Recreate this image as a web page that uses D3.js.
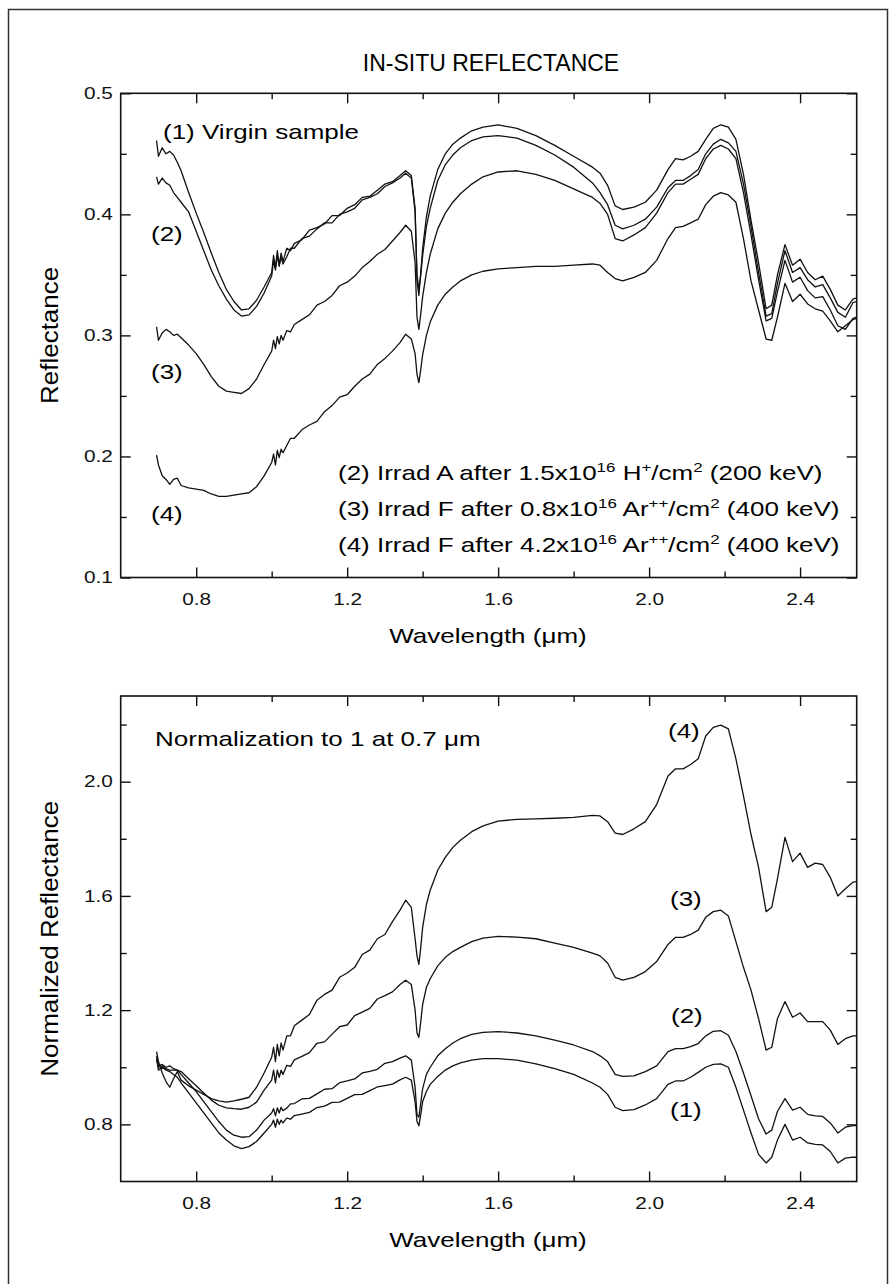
<!DOCTYPE html>
<html>
<head>
<meta charset="utf-8">
<script src="https://cdn.jsdelivr.net/npm/d3@7"></script>
<style>
  body { margin: 0; background: #fff; }
  svg { display: block; font-family: "Liberation Sans", Arial, Helvetica, sans-serif; }
</style>
</head>
<body>
<svg id="chart" width="890" height="1284"></svg>
<script>
// Wavelength grid (um), shared by all spectra
var wavelength = [
  0.695, 0.70, 0.71, 0.72, 0.73, 0.74, 0.75, 0.76, 0.78, 0.80,
  0.82, 0.84, 0.86, 0.88, 0.90, 0.92, 0.94, 0.96, 0.98, 1.00,
  1.005, 1.01, 1.015, 1.02, 1.025, 1.03, 1.04, 1.05, 1.06, 1.08,
  1.10, 1.12, 1.14, 1.16, 1.18, 1.20, 1.22, 1.24, 1.26, 1.28,
  1.30, 1.32, 1.34, 1.355, 1.37, 1.38, 1.385, 1.39, 1.395, 1.40,
  1.41, 1.42, 1.44, 1.46, 1.48, 1.50, 1.53, 1.56, 1.60, 1.65,
  1.70, 1.75, 1.80, 1.85, 1.87, 1.89, 1.91, 1.93, 1.96, 1.99,
  2.02, 2.05, 2.07, 2.09, 2.11, 2.13, 2.15, 2.17, 2.19, 2.21,
  2.23, 2.25, 2.27, 2.29, 2.31, 2.325, 2.34, 2.36, 2.38, 2.40,
  2.42, 2.44, 2.46, 2.48, 2.50, 2.52, 2.54, 2.55
];

// In-situ reflectance
var reflVirgin = [
  0.461, 0.448, 0.455, 0.450, 0.452, 0.449, 0.443, 0.436, 0.418, 0.401,
  0.385, 0.368, 0.352, 0.338, 0.328, 0.321, 0.322, 0.329, 0.340, 0.352,
  0.366, 0.356, 0.370, 0.358, 0.368, 0.361, 0.372, 0.370, 0.376, 0.379,
  0.387, 0.389, 0.392, 0.399, 0.399, 0.405, 0.408, 0.414, 0.415, 0.420,
  0.425, 0.427, 0.432, 0.436, 0.432, 0.405, 0.345, 0.333, 0.352, 0.372,
  0.398, 0.415, 0.437, 0.450, 0.458, 0.463, 0.469, 0.472, 0.474, 0.471,
  0.465, 0.457, 0.448, 0.439, 0.434, 0.424, 0.407, 0.404, 0.406, 0.410,
  0.420, 0.437, 0.446, 0.445, 0.448, 0.452, 0.462, 0.471, 0.474, 0.472,
  0.462, 0.433, 0.395, 0.360, 0.322, 0.325, 0.350, 0.375, 0.358, 0.363,
  0.352, 0.346, 0.349, 0.338, 0.325, 0.321, 0.330, 0.331
];
var reflIrradA = [
  0.431, 0.425, 0.430, 0.426, 0.424, 0.418, 0.414, 0.410, 0.402, 0.386,
  0.370, 0.354, 0.341, 0.330, 0.321, 0.316, 0.317, 0.324, 0.335, 0.349,
  0.362, 0.354, 0.366, 0.357, 0.365, 0.359, 0.365, 0.372, 0.372, 0.380,
  0.382, 0.388, 0.393, 0.393, 0.400, 0.402, 0.405, 0.412, 0.414, 0.417,
  0.423, 0.426, 0.430, 0.434, 0.430, 0.402, 0.350, 0.338, 0.350, 0.366,
  0.390, 0.405, 0.428, 0.441, 0.449, 0.455, 0.461, 0.464, 0.465, 0.463,
  0.457, 0.449, 0.439, 0.426, 0.418, 0.408, 0.391, 0.388, 0.391, 0.396,
  0.406, 0.422, 0.428, 0.428, 0.432, 0.437, 0.450, 0.458, 0.462, 0.459,
  0.452, 0.425, 0.390, 0.352, 0.316, 0.318, 0.343, 0.370, 0.352, 0.356,
  0.346, 0.340, 0.342, 0.331, 0.319, 0.315, 0.327, 0.328
];
var reflIrradF08 = [
  0.307, 0.296, 0.302, 0.305, 0.303, 0.300, 0.301, 0.298, 0.292, 0.285,
  0.276, 0.266, 0.258, 0.254, 0.253, 0.252, 0.256, 0.264, 0.276, 0.287,
  0.296, 0.289, 0.299, 0.293, 0.300, 0.296, 0.304, 0.303, 0.309, 0.313,
  0.317, 0.325, 0.328, 0.333, 0.341, 0.344, 0.349, 0.356, 0.361, 0.367,
  0.371, 0.378, 0.385, 0.391, 0.386, 0.360, 0.315, 0.305, 0.318, 0.332,
  0.352, 0.367, 0.388, 0.401, 0.410, 0.417, 0.425, 0.431, 0.435, 0.436,
  0.433, 0.428, 0.421, 0.414, 0.409, 0.400, 0.380, 0.378, 0.383, 0.389,
  0.401, 0.418, 0.425, 0.425, 0.429, 0.433, 0.446, 0.454, 0.457, 0.454,
  0.446, 0.418, 0.383, 0.346, 0.312, 0.314, 0.336, 0.362, 0.344, 0.348,
  0.337, 0.331, 0.332, 0.321, 0.308, 0.305, 0.314, 0.315
];
var reflIrradF42 = [
  0.201, 0.193, 0.184, 0.181, 0.177, 0.181, 0.182, 0.176, 0.174, 0.173,
  0.172, 0.169, 0.167, 0.167, 0.168, 0.169, 0.170, 0.175, 0.184, 0.195,
  0.202, 0.193, 0.205, 0.199, 0.206, 0.203, 0.209, 0.215, 0.215, 0.222,
  0.226, 0.229, 0.237, 0.242, 0.249, 0.251, 0.258, 0.264, 0.268, 0.276,
  0.281, 0.287, 0.294, 0.301, 0.297, 0.285, 0.268, 0.261, 0.272, 0.284,
  0.300, 0.311, 0.325, 0.334, 0.340, 0.345, 0.350, 0.353, 0.355, 0.356,
  0.357, 0.357, 0.358, 0.359, 0.358, 0.352, 0.347, 0.345, 0.348, 0.352,
  0.362, 0.380, 0.389, 0.390, 0.393, 0.396, 0.408, 0.415, 0.418, 0.416,
  0.410, 0.380, 0.345, 0.321, 0.297, 0.296, 0.315, 0.343, 0.328, 0.334,
  0.326, 0.322, 0.320, 0.312, 0.303, 0.308, 0.313, 0.314
];

// Normalized reflectance (1 at 0.7 um)
var normVirgin = [
  1.03, 0.99, 1.0, 0.99, 0.985, 0.975, 0.965, 0.945, 0.91, 0.875,
  0.84, 0.805, 0.77, 0.745, 0.725, 0.715, 0.722, 0.74, 0.77, 0.80,
  0.815, 0.79, 0.818, 0.80, 0.815, 0.805, 0.822, 0.818, 0.831, 0.836,
  0.842, 0.859, 0.864, 0.877, 0.878, 0.891, 0.904, 0.905, 0.918, 0.931,
  0.936, 0.941, 0.956, 0.965, 0.955, 0.88, 0.81, 0.795, 0.835, 0.88,
  0.915, 0.94, 0.968, 0.99, 1.005, 1.015, 1.025, 1.03, 1.03, 1.025,
  1.012, 0.995, 0.975, 0.945, 0.93, 0.905, 0.86, 0.848, 0.852, 0.868,
  0.89, 0.94, 0.952, 0.952, 0.965, 0.982, 1.0, 1.01, 1.012, 1.0,
  0.93, 0.85, 0.77, 0.695, 0.665, 0.685, 0.745, 0.80, 0.745, 0.755,
  0.735, 0.73, 0.728, 0.705, 0.665, 0.682, 0.685, 0.685
];
var normIrradA = [
  1.04, 1.005, 1.01, 1.0, 1.005, 0.995, 0.99, 0.975, 0.945, 0.915,
  0.88, 0.845, 0.81, 0.78, 0.762, 0.755, 0.757, 0.78, 0.815, 0.84,
  0.855, 0.83, 0.858, 0.84, 0.86, 0.848, 0.857, 0.872, 0.873, 0.889,
  0.891, 0.907, 0.923, 0.925, 0.946, 0.952, 0.959, 0.980, 0.986, 0.993,
  1.014, 1.020, 1.032, 1.04, 1.025, 0.93, 0.835, 0.825, 0.875, 0.925,
  0.975, 1.0, 1.04, 1.065, 1.085, 1.1, 1.115, 1.122, 1.125, 1.12,
  1.11, 1.095, 1.078, 1.055, 1.04, 1.02, 0.975, 0.968, 0.97, 0.985,
  1.005, 1.055, 1.065, 1.065, 1.072, 1.083, 1.11, 1.126, 1.128, 1.112,
  1.055, 0.98, 0.9, 0.82, 0.766, 0.78, 0.845, 0.89, 0.85, 0.86,
  0.835, 0.83, 0.828, 0.805, 0.77, 0.79, 0.796, 0.796
];
var normIrradF08 = [
  1.03, 1.0, 1.005, 0.995, 0.99, 0.99, 0.99, 0.985, 0.96, 0.935,
  0.91, 0.885, 0.867, 0.858, 0.855, 0.853, 0.86, 0.878, 0.92, 0.955,
  0.99, 0.945, 0.99, 0.965, 0.99, 0.975, 1.007, 1.003, 1.026, 1.038,
  1.051, 1.084, 1.089, 1.116, 1.142, 1.148, 1.181, 1.193, 1.206, 1.239,
  1.251, 1.264, 1.29, 1.305, 1.29, 1.2, 1.12, 1.105, 1.16, 1.22,
  1.28, 1.31, 1.355, 1.385, 1.405, 1.42, 1.44, 1.452, 1.458, 1.456,
  1.45, 1.435, 1.42, 1.40, 1.39, 1.365, 1.315, 1.305, 1.315, 1.335,
  1.37, 1.43, 1.455, 1.455, 1.465, 1.48, 1.525, 1.545, 1.55, 1.53,
  1.44, 1.35, 1.27, 1.17, 1.06, 1.07, 1.17, 1.23, 1.175, 1.19,
  1.16, 1.16, 1.16, 1.13, 1.08, 1.10, 1.11, 1.11
];
var normIrradF42 = [
  1.055, 1.02, 0.98, 0.95, 0.93, 0.96, 0.985, 0.955, 0.935, 0.92,
  0.905, 0.89, 0.882, 0.878, 0.882, 0.888, 0.895, 0.93, 0.98, 1.035,
  1.07, 1.02, 1.08, 1.04, 1.085, 1.06, 1.11, 1.11, 1.145, 1.165,
  1.185, 1.235, 1.255, 1.27, 1.315, 1.33, 1.35, 1.395, 1.41, 1.45,
  1.465, 1.51, 1.55, 1.585, 1.56, 1.45, 1.39, 1.36, 1.42, 1.49,
  1.57, 1.62, 1.69, 1.735, 1.77, 1.795, 1.825, 1.845, 1.862, 1.868,
  1.87, 1.872, 1.875, 1.882, 1.88, 1.86, 1.82, 1.815, 1.835, 1.86,
  1.92, 2.02, 2.045, 2.045, 2.06, 2.08, 2.16, 2.19, 2.198, 2.185,
  2.08, 1.95, 1.815, 1.70, 1.545, 1.56, 1.66, 1.805, 1.72, 1.75,
  1.70, 1.715, 1.71, 1.665, 1.60, 1.625, 1.648, 1.65
];

// Ticks
var xMajorTicks = [0.8, 1.2, 1.6, 2.0, 2.4];
var xMinorTicks = [1.0, 1.4, 1.8, 2.2];
var topYMajorTicks = [0.1, 0.2, 0.3, 0.4, 0.5];
var topYMinorTicks = [0.15, 0.25, 0.35, 0.45];
var bottomYMajorTicks = [0.8, 1.2, 1.6, 2.0];
var bottomYMinorTicks = [1.0, 1.4, 1.8, 2.2];

var stretch = 1.3; // text in the picture is drawn wide
var svg = d3.select("#chart");

// outer frame
svg
  .append("rect")
  .attr("x", 8.5)
  .attr("y", 9.5)
  .attr("width", 879)
  .attr("height", 1300)
  .attr("fill", "none")
  .attr("stroke", "#333")
  .attr("stroke-width", 1.5);

svg
  .append("text")
  .attr("x", 491)
  .attr("y", 71)
  .attr("text-anchor", "middle")
  .style("font-size", "23px")
  .text("IN-SITU REFLECTANCE");

function addLabel(x, y, str, size, anchor) {
  return svg
    .append("text")
    .attr("transform", "translate(" + x + "," + y + ") scale(" + stretch + ",1)")
    .attr("text-anchor", anchor || "start")
    .style("font-size", size + "px")
    .text(str);
}

function drawPanel(p) {
  var x = d3.scaleLinear().domain([0.6, 2.55]).range([120.7, 856.7]);
  var y = d3.scaleLinear().domain(p.yDomain).range([p.bottom, p.top]);
  var g = svg.append("g");

  function axis(gen, values, size, tx, ty, labels) {
    gen.tickValues(values).tickSizeInner(-size).tickSizeOuter(0);
    if (labels) gen.tickFormat(d3.format(".1f"));
    else gen.tickFormat("");
    var a = g
      .append("g")
      .attr("transform", "translate(" + tx + "," + ty + ")")
      .call(gen);
    a.select(".domain").remove();
    a.selectAll(".tick line").attr("stroke", "#111").attr("stroke-width", 1.4);
    a.selectAll(".tick text")
      .attr("fill", "#111")
      .style("font-size", "16px")
      .style("font-family", "'Liberation Sans', Arial, sans-serif")
      .attr("transform", "scale(" + stretch + ",1)");
    return a;
  }

  axis(d3.axisBottom(x).tickPadding(16), xMajorTicks, 10, 0, p.bottom, true);
  axis(d3.axisBottom(x), xMinorTicks, 6, 0, p.bottom, false);
  axis(d3.axisTop(x), xMajorTicks, 10, 0, p.top, false);
  axis(d3.axisTop(x), xMinorTicks, 6, 0, p.top, false);
  axis(d3.axisLeft(y).tickPadding(6), p.yMajor, 10, 120.7, 0, true);
  axis(d3.axisLeft(y), p.yMinor, 6, 120.7, 0, false);
  axis(d3.axisRight(y), p.yMajor, 10, 856.7, 0, false);
  axis(d3.axisRight(y), p.yMinor, 6, 856.7, 0, false);

  g.append("rect")
    .attr("x", 120.7)
    .attr("y", p.top)
    .attr("width", 856.7 - 120.7)
    .attr("height", p.bottom - p.top)
    .attr("fill", "none")
    .attr("stroke", "#111")
    .attr("stroke-width", 1.6);

  var line = d3
    .line()
    .x(function (d) { return x(d[0]); })
    .y(function (d) { return y(d[1]); });

  p.series.forEach(function (s) {
    g.append("path")
      .datum(wavelength.map(function (w, i) { return [w, s[i]]; }))
      .attr("fill", "none")
      .attr("stroke", "#111")
      .attr("stroke-width", 1.3)
      .attr("stroke-linejoin", "round")
      .attr("d", line);
  });

  // axis titles
  addLabel(488, p.bottom + 65, "Wavelength (\u03bcm)", 20, "middle");
  svg
    .append("text")
    .attr("transform", "translate(58," + (p.top + p.bottom) / 2 + ") rotate(-90) scale(1.3,1.2)")
    .attr("text-anchor", "middle")
    .style("font-size", "20px")
    .text(p.yTitle);
}

drawPanel({
  top: 93.3,
  bottom: 577.5,
  yDomain: [0.1, 0.5],
  yMajor: topYMajorTicks,
  yMinor: topYMinorTicks,
  yTitle: "Reflectance",
  series: [reflVirgin, reflIrradA, reflIrradF08, reflIrradF42]
});

drawPanel({
  top: 696,
  bottom: 1181.5,
  yDomain: [0.6, 2.3],
  yMajor: bottomYMajorTicks,
  yMinor: bottomYMinorTicks,
  yTitle: "Normalized Reflectance",
  series: [normVirgin, normIrradA, normIrradF08, normIrradF42]
});

// Top panel annotations
addLabel(163, 139, "(1) Virgin sample", 20);
addLabel(151, 241, "(2)", 20);
addLabel(151, 379, "(3)", 20);
addLabel(151, 521, "(4)", 20);

// legend lines with superscripts
function legendLine(yPos, parts) {
  var t = addLabel(338, yPos, "", 20);
  var raised = false;
  parts.forEach(function (pt) {
    if (pt.sup) {
      t.append("tspan").attr("dy", raised ? 0 : -8).style("font-size", "13px").text(pt.sup);
      raised = true;
    } else {
      t.append("tspan").attr("dy", raised ? 8 : 0).style("font-size", "20px").text(pt.txt);
      raised = false;
    }
  });
}
legendLine(480, [
  { txt: "(2) Irrad A after 1.5x10" }, { sup: "16" }, { txt: " H" }, { sup: "+" },
  { txt: "/cm" }, { sup: "2" }, { txt: " (200 keV)" }
]);
legendLine(516, [
  { txt: "(3) Irrad F after 0.8x10" }, { sup: "16" }, { txt: " Ar" }, { sup: "++" },
  { txt: "/cm" }, { sup: "2" }, { txt: " (400 keV)" }
]);
legendLine(552, [
  { txt: "(4) Irrad F after 4.2x10" }, { sup: "16" }, { txt: " Ar" }, { sup: "++" },
  { txt: "/cm" }, { sup: "2" }, { txt: " (400 keV)" }
]);

// Bottom panel annotations
addLabel(155, 746, "Normalization to 1 at 0.7 \u03bcm", 20);
addLabel(668, 738, "(4)", 20);
addLabel(670, 906, "(3)", 20);
addLabel(671, 1023, "(2)", 20);
addLabel(670, 1117, "(1)", 20);
</script>
</body>
</html>
